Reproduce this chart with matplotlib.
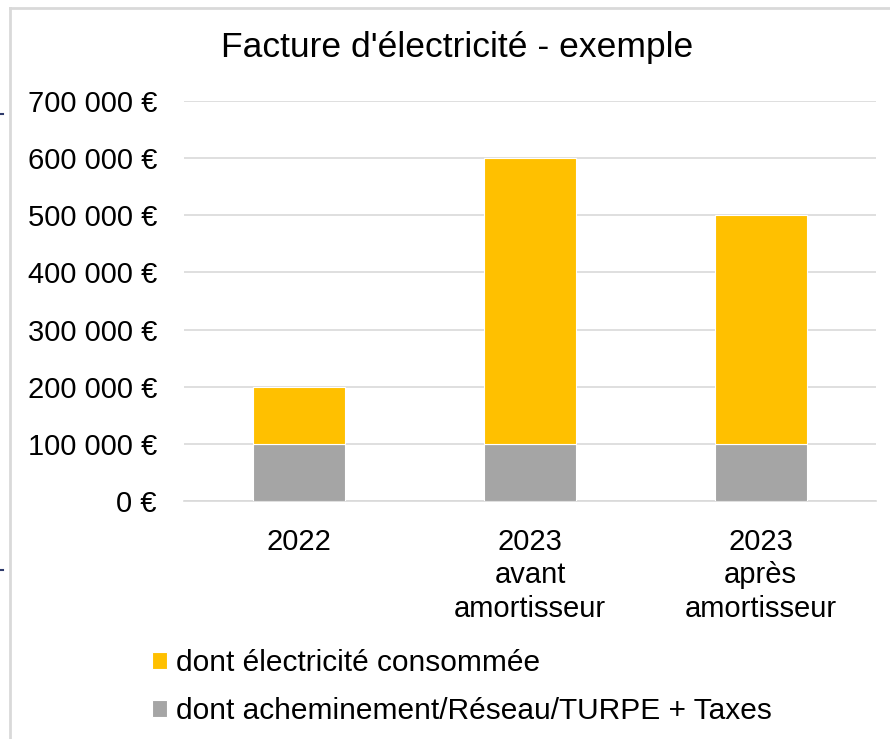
import matplotlib
matplotlib.use('Agg')
import matplotlib.pyplot as plt
import matplotlib.ticker as ticker
import numpy as np
from matplotlib.lines import Line2D

categories = ['2022', '2023\navant\namortisseur', '2023\naprès\namortisseur']
reseau_taxes = [100000, 100000, 100000]
electricite = [100000, 500000, 400000]
series_names = ['dont électricité consommée', 'dont acheminement/Réseau/TURPE + Taxes']
yticks = [0, 100000, 200000, 300000, 400000, 500000, 600000, 700000]
title = "Facture d'électricité - exemple"

plt.rcParams['font.family'] = ['Liberation Sans', 'DejaVu Sans']

W, H = 890, 739
fig = plt.figure(figsize=(W / 100, H / 100), dpi=100)
ax = fig.add_axes([184 / W, 1 - 501 / H, (876 - 184) / W, (501 - 101) / H])

x = np.arange(len(categories))
yellow = '#FFC000'
grey = '#A5A5A5'
ax.bar(x, reseau_taxes, width=0.4, color=grey, edgecolor='white', linewidth=0.8,
       label=series_names[1], zorder=3)
ax.bar(x, electricite, width=0.4, bottom=reseau_taxes, color=yellow,
       edgecolor='white', linewidth=0.8, label=series_names[0], zorder=3)

ax.set_xlim(-0.5, len(categories) - 0.5)
ax.set_ylim(0, 700000)
ax.set_yticks(yticks)


def euro(v, pos):
    s = '{:,.0f}'.format(v).replace(',', ' ')
    return s + ' €'


ax.yaxis.set_major_formatter(ticker.FuncFormatter(euro))
ax.set_xticks(x)
ax.set_xticklabels(categories, linespacing=1.24)
ax.tick_params(axis='both', length=0, labelsize=21)
ax.tick_params(axis='y', pad=19.5)
ax.tick_params(axis='x', pad=19.5)
ax.grid(axis='y', color='#D9D9D9', linewidth=1.2, zorder=0)
for s in ['top', 'right', 'left']:
    ax.spines[s].set_visible(False)
ax.spines['bottom'].set_color('#D9D9D9')
ax.spines['bottom'].set_linewidth(1.2)

fig.text(457 / W, 1 - 47 / H, title, ha='center', va='center', fontsize=25.5)

handles, labels = ax.get_legend_handles_labels()
fig.legend(handles[::-1], labels[::-1], loc='upper left',
           bbox_to_anchor=(152 / W, 1 - 649 / H), frameon=False, fontsize=21.5,
           handlelength=0.5, handleheight=0.5, handletextpad=0.3,
           labelspacing=0.68, borderaxespad=0, borderpad=0)

# chart border (left and top visible)
fig.add_artist(Line2D([10 / W, 10 / W], [0, 1 - 8 / H], color='#D9D9D9', linewidth=2,
                      transform=fig.transFigure))
fig.add_artist(Line2D([10 / W, 1], [1 - 8 / H, 1 - 8 / H], color='#D9D9D9', linewidth=2,
                      transform=fig.transFigure))
fig.add_artist(Line2D([0, 3 / W], [1 - 114 / H, 1 - 114 / H], color='#2F3B6B', linewidth=1.5,
                      transform=fig.transFigure))
fig.add_artist(Line2D([0, 3 / W], [1 - 570 / H, 1 - 570 / H], color='#2F3B6B', linewidth=1.5,
                      transform=fig.transFigure))

fig.savefig('out.png', dpi=100)
